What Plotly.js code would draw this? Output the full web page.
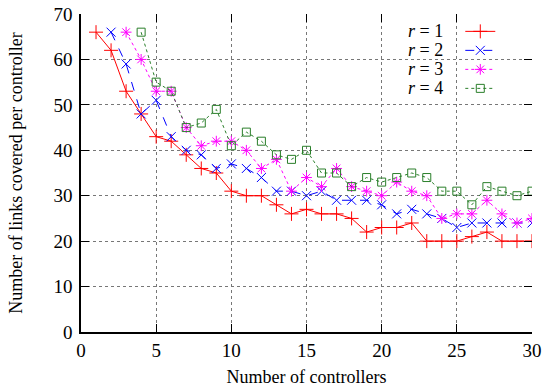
<!DOCTYPE html>
<html>
<head>
<meta charset="utf-8">
<script src="https://cdn.plot.ly/plotly-3.0.1.min.js"></script>
<style>
html,body{margin:0;padding:0;background:#fff;}
#chart{width:544px;height:387px;}
</style>
</head>
<body>
<div id="chart"></div>
<script>
const controllers = [1,2,3,4,5,6,7,8,9,10,11,12,13,14,15,16,17,18,19,20,21,22,23,24,25,26,27,28,29,30];
const r1 = [66,62,53,48,43,42,39,36,35,31,30,30,28,26,27,26,26,25,22,23,23,24,20,20,20,21,22,20,20,20];
const r2 = [null,66,59,48,51,43,40,39,36,37,36,34,31,31,30,31,29,29,29,28,26,27,26,25,23,24,24,24,24,24];
const r3 = [null,null,66,60,53,53,45,41,42,42,40,36,38,31,34,32,36,32,31,30,33,31,30,25,26,26,29,26,24,25];
const r4 = [null,null,null,66,55,53,45,46,49,41,44,42,39,38,40,35,35,32,34,33,34,35,34,31,31,28,32,31,30,31];
const seriesNames = ["r = 1","r = 2","r = 3","r = 4"];
const xTicks = [0,5,10,15,20,25,30];
const yTicks = [0,10,20,30,40,50,60,70];

const serifFamily = "Liberation Serif";
const mk = (y, color, dash, symbol, size) => ({
  x: controllers, y: y, type: "scatter", mode: "lines+markers", name: " ",
  line: {color: color, width: 1, dash: dash},
  marker: {symbol: symbol, size: size, color: color, line: {color: color, width: 1}},
  connectgaps: false
});
const traces = [
  mk(r1, "#ff0000", "solid", "cross-thin", 10),
  mk(r2, "#0000ff", "dash", "x-thin", 9),
  mk(r3, "#ff00ff", "3px,3px", "asterisk-open", 9),
  mk(r4, "#2a7f2a", "dot", "square-open", 8),
  {x: [], y: [], xaxis: "x2", yaxis: "y2", showlegend: false, type: "scatter", mode: "lines"}
];

const axBase = {
  range: [0, 30], tickvals: xTicks, ticks: "inside", ticklen: 8, tickwidth: 1, tickcolor: "#000",
  zeroline: false
};
const layout = {
  width: 544, height: 387,
  margin: {l: 81, r: 12, t: 14, b: 55},
  paper_bgcolor: "#fff", plot_bgcolor: "#fff",
  font: {family: serifFamily, size: 19, color: "#000"},
  showlegend: true,
  legend: {x: 0.841, y: 0.991, xanchor: "left", yanchor: "top", bgcolor: "rgba(0,0,0,0)",
           font: {family: serifFamily, size: 11}, tracegroupgap: 0},
  xaxis: Object.assign({}, axBase, {
    showline: true, linecolor: "#000", linewidth: 1.5,
    showgrid: true, gridcolor: "#777", griddash: "dot", gridwidth: 1,
    tickfont: {family: serifFamily, size: 19, color: "#000"},
    title: {text: "Number of controllers", font: {family: serifFamily, size: 18, color: "#000"}, standoff: 11}
  }),
  yaxis: {
    range: [0, 70], tickvals: yTicks, ticks: "inside", ticklen: 8, tickwidth: 1, tickcolor: "#000",
    zeroline: false, ticklabelstandoff: 3,
    showline: true, linecolor: "#000", linewidth: 1.5,
    showgrid: true, gridcolor: "#777", griddash: "dot", gridwidth: 1,
    tickfont: {family: serifFamily, size: 19, color: "#000"},
    title: {text: "Number of links covered per controller", font: {family: serifFamily, size: 18, color: "#000"}, standoff: 26}
  },
  xaxis2: Object.assign({}, axBase, {overlaying: "x", side: "top", anchor: "y2", showline: false, showgrid: false, showticklabels: false}),
  yaxis2: {range: [0, 70], tickvals: yTicks, ticks: "inside", ticklen: 8, tickwidth: 1, tickcolor: "#000",
           zeroline: false, overlaying: "y", side: "right", anchor: "x2",
           showline: false, showgrid: false, showticklabels: false},
  annotations: seriesNames.map((n, i) => ({
    xref: "paper", yref: "paper", x: 0.808, y: 0.9465 - i * 0.0597, xanchor: "right", yanchor: "middle",
    text: "<i>r</i>" + n.slice(1), showarrow: false, font: {family: serifFamily, size: 18, color: "#000"}
  }))
};
Plotly.newPlot("chart", traces, layout, {displayModeBar: false});
</script>
</body>
</html>
